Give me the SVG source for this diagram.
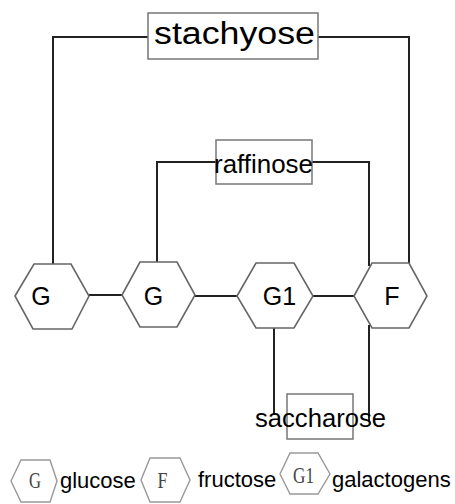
<svg xmlns="http://www.w3.org/2000/svg" width="455" height="504" viewBox="0 0 455 504">
<style>
.bg{fill:#fff}
.con{fill:none;stroke:#222;stroke-width:2}
.box{fill:none;stroke:#777;stroke-width:1.5}
.hex{fill:#fff;stroke:#666;stroke-width:1.6}
.lhex{fill:#fff;stroke:#999;stroke-width:1.4}
.t{font-family:"Liberation Sans",Arial,sans-serif;fill:#000}
.s{font-family:"Liberation Serif","Times New Roman",serif;fill:#444}
</style>
<rect class="bg" x="0" y="0" width="455" height="504"/>
<g id="connectors">
<polyline class="con" points="148,37 53,37 53,264"/>
<polyline class="con" points="318,37 409,37 409,263"/>
<polyline class="con" points="216,162 157,162 157,262"/>
<polyline class="con" points="312,162 369,162 369,266"/>
<line class="con" x1="89" y1="295" x2="122" y2="295"/>
<line class="con" x1="195" y1="296" x2="237" y2="296"/>
<line class="con" x1="313" y1="296" x2="354" y2="296"/>
<line class="con" x1="274" y1="328" x2="274" y2="415"/>
<line class="con" x1="369" y1="325" x2="369" y2="422"/>
</g>
<g id="stachyose">
<rect class="box" x="148" y="13" width="170" height="46"/>
<text class="t" x="154" y="44" font-size="31" textLength="161" lengthAdjust="spacingAndGlyphs">stachyose</text>
</g>
<g id="raffinose">
<rect class="box" x="216" y="140" width="96" height="44"/>
<text class="t" x="214" y="173" font-size="25" textLength="99" lengthAdjust="spacingAndGlyphs">raffinose</text>
</g>
<g id="saccharose">
<rect class="box" x="287" y="394" width="66" height="45"/>
<text class="t" x="255" y="427" font-size="25.5" textLength="131" lengthAdjust="spacingAndGlyphs">saccharose</text>
</g>
<g id="hex-g1">
<polygon class="hex" points="15,296 34,264 71,264 89,296 72,329 33,329"/>
<text class="t" x="41" y="305" font-size="25" text-anchor="middle">G</text>
</g>
<g id="hex-g2">
<polygon class="hex" points="122,295 140,262 177,262 195,295 177,327 140,327"/>
<text class="t" x="153.5" y="305" font-size="25" text-anchor="middle">G</text>
</g>
<g id="hex-gal">
<polygon class="hex" points="237,296 256,263 294,263 313,296 294,328 256,328"/>
<text class="t" x="279.5" y="305" font-size="25" text-anchor="middle">G1</text>
</g>
<g id="hex-f">
<polygon class="hex" points="354,296 372,263 409,263 427,296 409,328 372,328"/>
<text class="t" x="392" y="305" font-size="25" text-anchor="middle">F</text>
</g>
<g id="legend-glucose">
<polygon class="lhex" points="11,481 21,460 50,460 57,481 50,502 21,502"/>
<text class="s" x="35" y="488" font-size="24" text-anchor="middle" textLength="12" lengthAdjust="spacingAndGlyphs">G</text>
<text class="t" x="60" y="488" font-size="22">glucose</text>
</g>
<g id="legend-fructose">
<polygon class="lhex" points="141,480 150,458 180,458 190,480 180,502 150,502"/>
<text class="s" x="162.5" y="488" font-size="24" text-anchor="middle" textLength="10" lengthAdjust="spacingAndGlyphs">F</text>
<text class="t" x="198" y="487" font-size="22">fructose</text>
</g>
<g id="legend-galactogens">
<polygon class="lhex" points="280,474 290,453 318,453 330,474 318,494 290,494"/>
<text class="s" x="303.5" y="483" font-size="24" text-anchor="middle" textLength="21" lengthAdjust="spacingAndGlyphs">G1</text>
<text class="t" x="332" y="487" font-size="22">galactogens</text>
</g>
</svg>
